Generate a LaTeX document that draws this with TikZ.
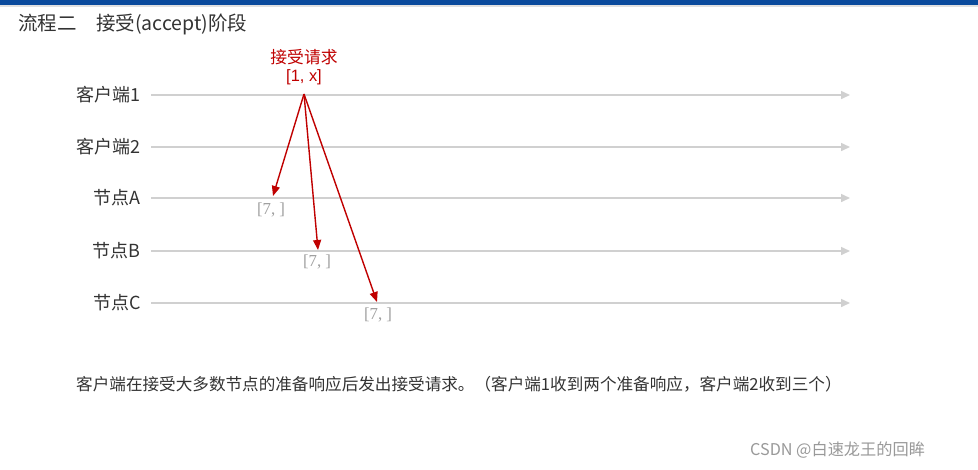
\documentclass[tikz,border=0pt]{standalone}
\usepackage{fontspec}
\setmainfont{Liberation Sans}
\newfontfamily\cjk{Noto Sans CJK SC}
\newfontfamily\serifnum{Liberation Serif}
\usetikzlibrary{arrows.meta}
\definecolor{topblue}{HTML}{0A4A9C}
\definecolor{txt}{HTML}{333333}
\definecolor{redc}{HTML}{C00000}
\definecolor{lineg}{HTML}{D0D0D0}
\definecolor{lblg}{HTML}{A0A0A0}
\definecolor{wm}{HTML}{999999}
\begin{document}
\begin{tikzpicture}[x=1pt,y=-1pt,
  rowlabel/.style={anchor=east,text=txt,font=\cjk\fontsize{18}{20}\selectfont,inner sep=0pt},
  timeline/.style={draw=lineg,line width=1.5pt,-{Triangle[length=9pt,width=8pt]}},
  msg/.style={draw=redc,line width=1.4pt,-{Triangle[length=10pt,width=8pt]}},
  vallbl/.style={text=lblg,font=\serifnum\fontsize{16.8}{18}\selectfont,inner sep=0pt},
  redlbl/.style={text=redc,font=\cjk\fontsize{16.8}{18}\selectfont,inner sep=0pt}]
\useasboundingbox (0,0) rectangle (978,469);
\fill[white] (0,0) rectangle (978,469);
\fill[topblue] (0,0) rectangle (978,5);
\fill[black!12] (0,5) rectangle (978,7);
\node[anchor=west,text=txt,font=\cjk\fontsize{19.5}{21}\selectfont,inner sep=0pt] (title) at (18,24) {流程二\quad 接受(accept)阶段};
% timelines
\foreach \n/\lab/\y in {c1/客户端1/95,c2/客户端2/147,na/节点A/198,nb/节点B/251,nc/节点C/303}{
  \node[rowlabel] (\n) at (141,\y) {\lab};
  \coordinate (\n s) at (151,\y);
  \coordinate (\n e) at (850,\y);
  \draw[timeline] (\n s) -- (\n e);
}
\coordinate (src) at (304,94);
\coordinate (ta) at (273,196);
\coordinate (tb) at (318,250);
\coordinate (tc) at (377,302);
\draw[msg] (src) -- (ta);
\draw[msg] (src) -- (tb);
\draw[msg] (src) -- (tc);
\node[redlbl] (req) at (304,57) {接受请求};
\node[text=redc,font=\fontsize{16.4}{18}\selectfont,inner sep=0pt] (reqv) at (304,77) {[1, x]};
\node[vallbl] (va) at (271,210) {[7, ]};
\node[vallbl] (vb) at (317,262) {[7, ]};
\node[vallbl] (vc) at (378,315) {[7, ]};
\node[anchor=west,text=txt,font=\cjk\fontsize{16.6}{18}\selectfont,inner sep=0pt] (cap) at (76,384) {客户端在接受大多数节点的准备响应后发出接受请求。（客户端1收到两个准备响应，客户端2收到三个）};
\node[anchor=west,text=wm,font=\cjk\fontsize{16.2}{18}\selectfont,inner sep=0pt] (wmk) at (750,450) {CSDN @白速龙王的回眸};
\end{tikzpicture}
\end{document}
